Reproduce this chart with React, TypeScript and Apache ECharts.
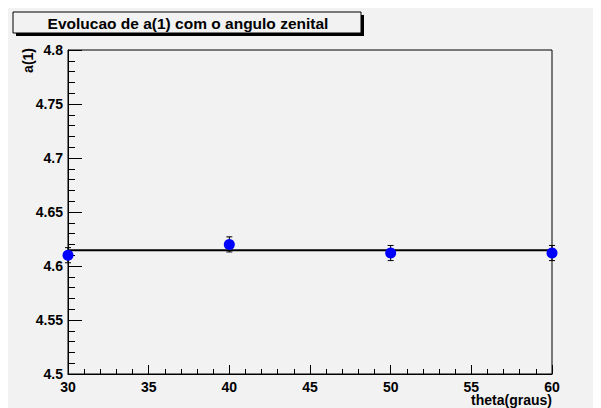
import React, { useEffect, useRef } from "react";
import * as echarts from "echarts";

// Fitted parameter a(1) versus zenith angle
const thetaDeg = [30, 40, 50, 60];
const a1Values = [4.610, 4.620, 4.612, 4.612];
const a1Errors = [0.007, 0.007, 0.007, 0.007];
const fitValue = 4.6145;
const fitRange = [30, 60];

const yTicks = { min: 4.5, max: 4.8, step: 0.05 };
const xTicks = { min: 30, max: 60, step: 5 };

const titleText = "Evolucao de a(1) com o angulo zenital";
const xName = "theta(graus)";
const yName = "a(1)";

const FONT = "'Liberation Sans', Arial, Helvetica, sans-serif";
const BG = "#f2f2f2";

export default function App() {
  const ref = useRef<HTMLDivElement>(null);

  useEffect(() => {
    if (!ref.current) return;
    const chart = echarts.init(ref.current, undefined, { renderer: "svg" });

    const points = thetaDeg.map((t, i) => [t, a1Values[i]]);
    const bars = thetaDeg.map((t, i) => [t, a1Values[i] - a1Errors[i], a1Values[i] + a1Errors[i]]);

    const labelStyle = {
      color: "#000",
      fontFamily: FONT,
      fontWeight: "bold" as const,
      fontSize: 14,
    };

    chart.setOption({
      animation: false,
      backgroundColor: BG,
      grid: {
        left: 60,
        right: 49,
        top: 42,
        bottom: 34,
        show: true,
        borderColor: "#000",
        borderWidth: 1,
        backgroundColor: "transparent",
      },
      xAxis: {
        type: "value",
        min: xTicks.min,
        max: xTicks.max,
        interval: xTicks.step,
        axisLine: { show: true, lineStyle: { color: "#000", width: 1 } },
        axisTick: { show: true, inside: true, length: 9, lineStyle: { color: "#000" } },
        minorTick: { show: true, splitNumber: 5, length: 5, lineStyle: { color: "#000" } },
        splitLine: { show: false },
        axisLabel: { ...labelStyle, margin: 6 },
      },
      yAxis: {
        type: "value",
        min: yTicks.min,
        max: yTicks.max,
        interval: yTicks.step,
        axisLine: { show: true, lineStyle: { color: "#000", width: 1 } },
        axisTick: { show: true, inside: true, length: 14, lineStyle: { color: "#000" } },
        minorTick: { show: true, splitNumber: 5, length: 7, lineStyle: { color: "#000" } },
        splitLine: { show: false },
        axisLabel: {
          ...labelStyle,
          margin: 5,
          formatter: (v: number) => String(parseFloat(v.toFixed(2))),
        },
      },
      series: [
        {
          type: "line",
          data: fitRange.map((x) => [x, fitValue]),
          symbol: "none",
          lineStyle: { color: "#000", width: 2 },
          z: 2,
          silent: true,
        },
        {
          type: "custom",
          data: bars,
          z: 3,
          renderItem: (params: any, api: any) => {
            const x = api.value(0);
            const lo = api.coord([x, api.value(1)]);
            const hi = api.coord([x, api.value(2)]);
            const cap = 3;
            const style = { stroke: "#000", lineWidth: 1 };
            return {
              type: "group",
              children: [
                { type: "line", shape: { x1: lo[0], y1: lo[1], x2: hi[0], y2: hi[1] }, style },
                { type: "line", shape: { x1: lo[0] - cap, y1: lo[1], x2: lo[0] + cap, y2: lo[1] }, style },
                { type: "line", shape: { x1: hi[0] - cap, y1: hi[1], x2: hi[0] + cap, y2: hi[1] }, style },
              ],
            };
          },
        },
        {
          type: "scatter",
          data: points,
          symbol: "circle",
          symbolSize: 11,
          itemStyle: { color: "#0000ff", opacity: 1 },
          z: 4,
        },
      ],
      graphic: [
        {
          type: "rect",
          shape: { x: 8, y: 7, width: 348, height: 21 },
          style: { fill: "#000" },
          z: 10,
        },
        {
          type: "rect",
          shape: { x: 5, y: 4, width: 348, height: 21 },
          style: { fill: BG, stroke: "#000", lineWidth: 1 },
          z: 11,
        },
        {
          type: "text",
          x: 180,
          y: 15,
          z: 12,
          style: {
            text: titleText,
            fill: "#000",
            font: `bold 15.5px ${FONT}`,
            align: "center",
            verticalAlign: "middle",
          },
        },
        {
          type: "text",
          x: 544,
          y: 392,
          z: 12,
          style: {
            text: xName,
            fill: "#000",
            font: `bold 14px ${FONT}`,
            align: "right",
            verticalAlign: "middle",
          },
        },
        {
          type: "text",
          x: 20,
          y: 40,
          rotation: Math.PI / 2,
          z: 12,
          style: {
            text: yName,
            fill: "#000",
            font: `bold 14px ${FONT}`,
            align: "right",
            verticalAlign: "middle",
          },
        },
      ],
    });

    return () => chart.dispose();
  }, []);

  return <div ref={ref} style={{ width: 593, height: 400 }} />;
}
